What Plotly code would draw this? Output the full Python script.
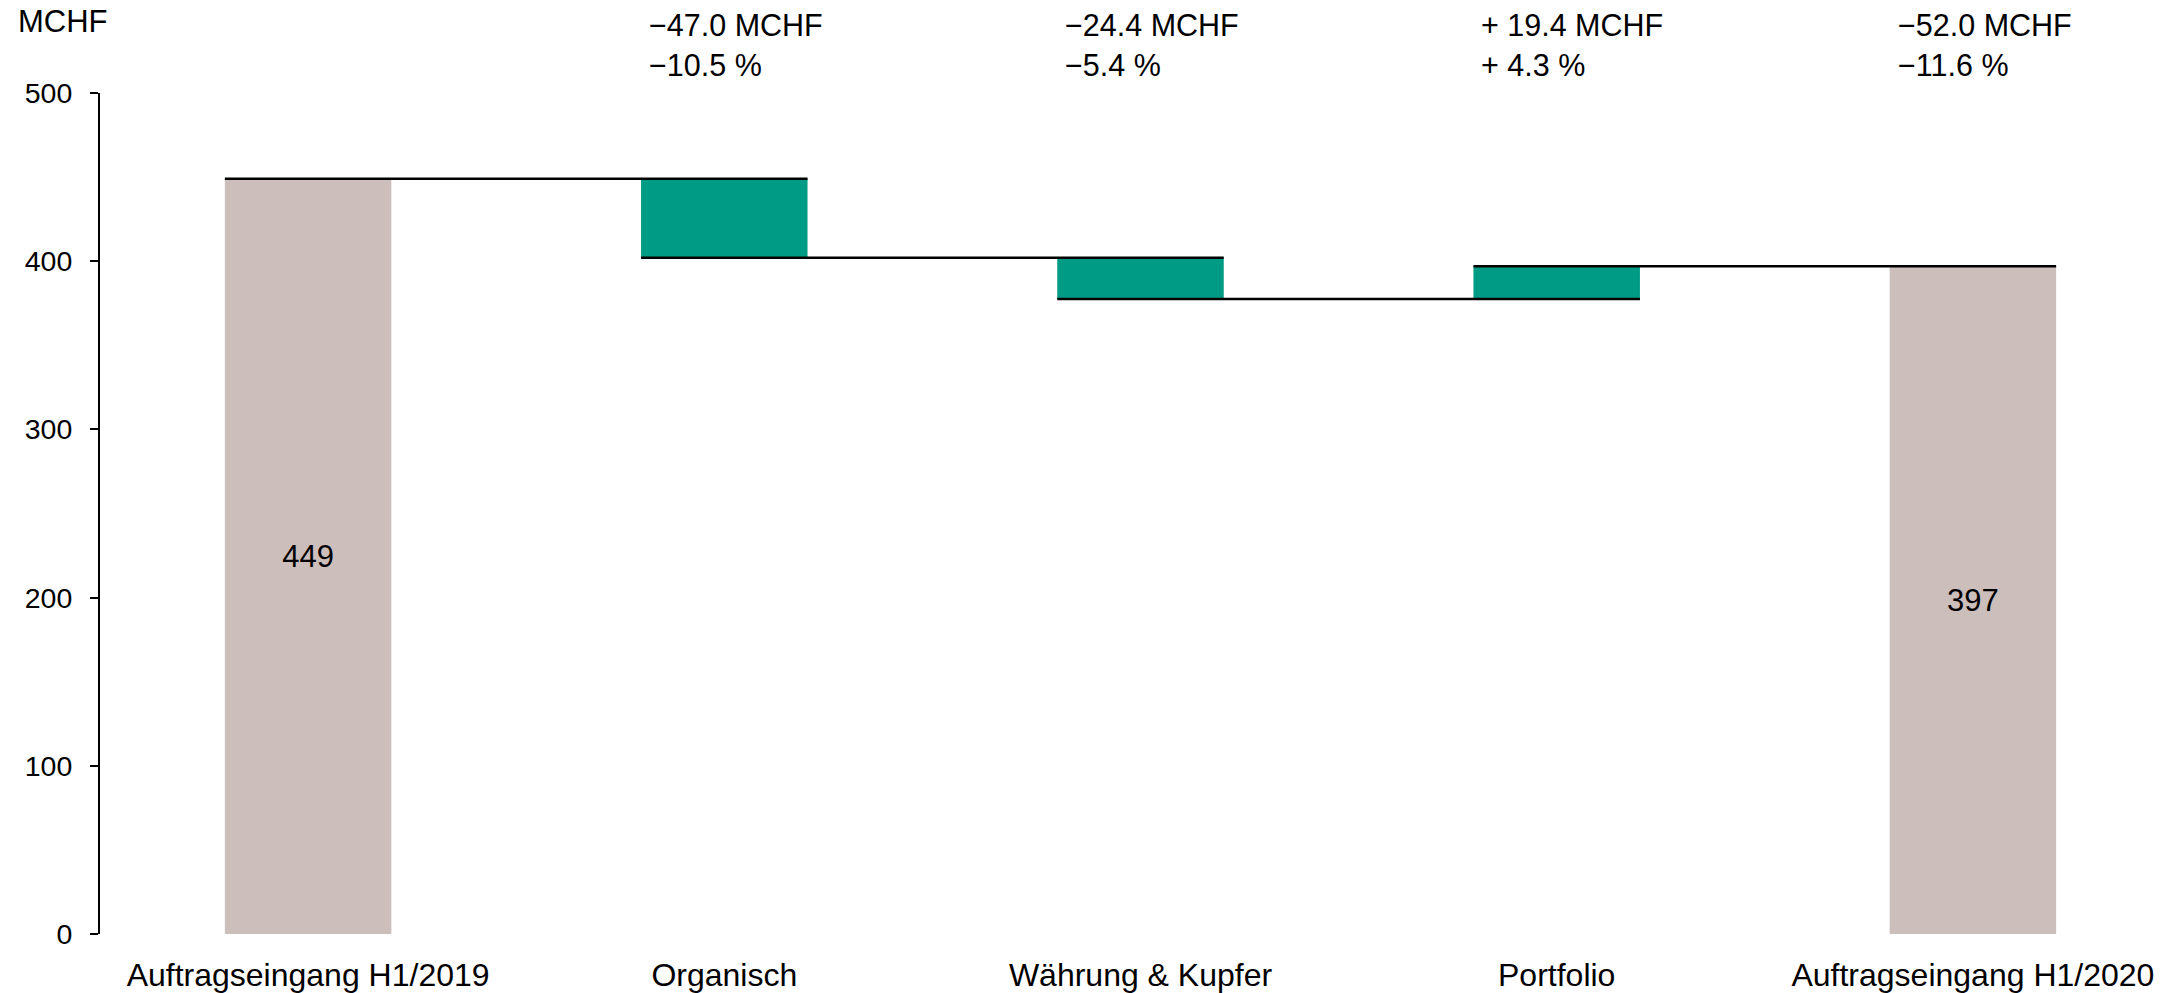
import plotly.graph_objects as go

# Order intake bridge H1/2019 -> H1/2020 (MCHF)
categories = ["Auftragseingang H1/2019", "Organisch", "Währung & Kupfer",
              "Portfolio", "Auftragseingang H1/2020"]
start_value = 449.0
changes = [-47.0, -24.4, 19.4]
end_value = 397.0

TOTAL_COLOR = "#CCBEBB"
DELTA_COLOR = "#009B84"
FONT = "Liberation Sans, Arial, sans-serif"
BAR_WIDTH = 0.4


def fmt_signed(v, unit):
    if v < 0:
        return "\u2212" + f"{abs(v):.1f} {unit}"
    return "+ " + f"{v:.1f} {unit}"


# running levels and bar geometry
levels = [start_value]
for c in changes:
    levels.append(levels[-1] + c)

bases, heights, colors, texts = [0.0], [start_value], [TOTAL_COLOR], [f"{start_value:.0f}"]
for i, c in enumerate(changes):
    bases.append(min(levels[i], levels[i + 1]))
    heights.append(abs(c))
    colors.append(DELTA_COLOR)
    texts.append("")
bases.append(0.0)
heights.append(end_value)
colors.append(TOTAL_COLOR)
texts.append(f"{end_value:.0f}")

xs = list(range(len(categories)))

fig = go.Figure()
fig.add_trace(go.Bar(
    x=xs, y=heights, base=bases, width=BAR_WIDTH,
    marker=dict(color=colors, line=dict(width=0)),
    text=texts, textposition="inside", insidetextanchor="middle",
    textangle=0, constraintext="none",
    textfont=dict(family=FONT, size=31, color="black"),
    hoverinfo="skip", showlegend=False,
))

# connector lines: from left edge of one bar to right edge of the next
line_levels = levels + [end_value]
for i in range(len(categories) - 1):
    y = line_levels[i]
    fig.add_trace(go.Scatter(
        x=[xs[i] - BAR_WIDTH / 2, xs[i + 1] + BAR_WIDTH / 2],
        y=[y, y], mode="lines",
        line=dict(color="black", width=2.5),
        hoverinfo="skip", showlegend=False,
    ))

# delta annotations above the chart
deltas = changes + [end_value - start_value]
for i, d in enumerate(deltas, start=1):
    pct = d / start_value * 100
    fig.add_annotation(
        x=xs[i] - BAR_WIDTH / 2, xref="x", xanchor="left", xshift=6,
        y=1, yref="paper", yanchor="bottom", yshift=9,
        text=fmt_signed(d, "MCHF") + "<br>" + fmt_signed(pct, "%"),
        showarrow=False, align="left",
        font=dict(family=FONT, size=30.5, color="black"),
    )

fig.add_annotation(
    x=0, xref="paper", xanchor="left", xshift=-84,
    y=1, yref="paper", yanchor="bottom", yshift=52,
    text="MCHF", showarrow=False,
    font=dict(family=FONT, size=31, color="black"),
)

fig.update_layout(
    width=2184, height=993,
    margin=dict(l=100, r=3, t=93, b=59, autoexpand=False),
    paper_bgcolor="white", plot_bgcolor="white",
    font=dict(family=FONT, color="black"),
    bargap=0.6,
    xaxis=dict(
        range=[-0.5, 4.5], tickvals=xs, ticktext=categories,
        showgrid=False, zeroline=False, showline=False, ticks="",
        tickfont=dict(family=FONT, size=32, color="black"),
        ticklabelstandoff=19, automargin=False,
    ),
    yaxis=dict(
        range=[0, 500], tickvals=[0, 100, 200, 300, 400, 500],
        showgrid=False, zeroline=False, showline=True,
        linecolor="black", linewidth=2,
        ticks="outside", ticklen=8, tickwidth=2, tickcolor="black",
        tickfont=dict(family=FONT, size=28.5, color="black"),
        ticklabelstandoff=12, automargin=False,
    ),
)

fig.write_html("out.html")
